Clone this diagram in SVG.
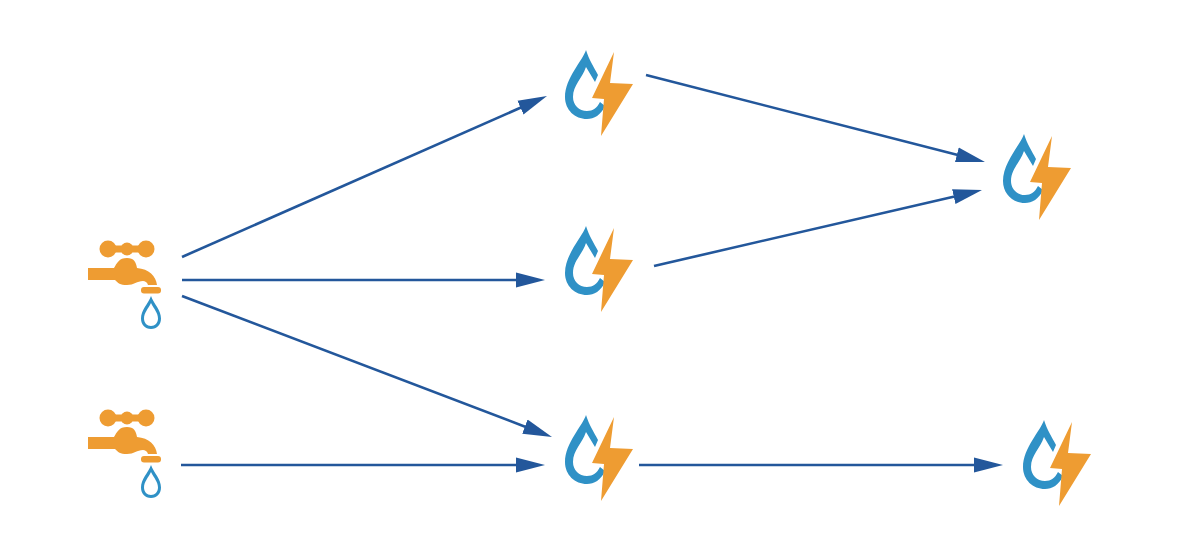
<svg xmlns="http://www.w3.org/2000/svg" width="1194" height="538" viewBox="0 0 1194 538">
<style>
.c{fill:none;stroke:#23579b;stroke-width:2.6;marker-end:url(#a)}
.o{fill:#ee9c32}
.b{fill:#2f91c6}
</style>
<defs>
<marker id="a" markerUnits="userSpaceOnUse" markerWidth="32" markerHeight="18" refX="3" refY="8.500" orient="auto"><path d="M0 1L29 8.500L0 16Z" fill="#23579b"/></marker>
<g id="tap">
<circle class="o" cx="108" cy="249" r="8.500"/><circle class="o" cx="146" cy="249" r="8.500"/><circle class="o" cx="127" cy="249" r="6.500"/>
<rect class="o" x="108" y="245.500" width="38" height="7"/>
<path class="o" d="M88 268H114C117 263 119 258 127 258C134 258 136 262 137 268C149 269 156 276 157 285H148C147 282 145 281 143 281C137 281 134 285 127 285C120 285 118 283 115 280H88Z"/>
<rect class="o" x="141" y="287" width="20" height="6.500" rx="3"/>
<path class="b" fill-rule="evenodd" d="M151 296C148 304 141 310 141 318.500C141 324.500 145 329 151 329C157 329 161 324.500 161 318.500C161 310 154 304 151 296ZM151 303C154 309 158 313 158 318.500C158 323 155 326 151 326C147 326 144 323 144 318.500C144 313 148 309 151 303Z"/>
</g>
<g id="ico">
<path class="b" d="M586 50C583 60 565 78 565 97C565 110 575 119 587 119C594 119 601 115 605 106L600 102C597 108 593 111 587 111C579 111 573 105 573 97C573 85 582 79 586 67C589 72 592 77 595 82L598 75C594 67 589 60 586 50Z"/>
<path class="o" d="M614 52L592 98L604 99L601 136L633 84L610 83Z"/>
</g>
</defs>
<g id="connectors">
<path class="c" d="M182 257L523.200 106.500"/>
<path class="c" d="M182 280H519"/>
<path class="c" d="M182 296L527.700 427.700"/>
<path class="c" d="M181 465H519"/>
<path class="c" d="M639 465H977"/>
<path class="c" d="M646 75L959.800 155.500"/>
<path class="c" d="M654 266L956.700 195.900"/>
</g>
<g id="tap1"><use href="#tap"/></g>
<g id="tap2"><use href="#tap" y="169"/></g>
<g id="node1"><use href="#ico"/></g>
<g id="node2"><use href="#ico" y="176"/></g>
<g id="node3"><use href="#ico" y="365"/></g>
<g id="node4"><use href="#ico" x="438" y="84"/></g>
<g id="node5"><use href="#ico" x="458" y="370"/></g>
</svg>
